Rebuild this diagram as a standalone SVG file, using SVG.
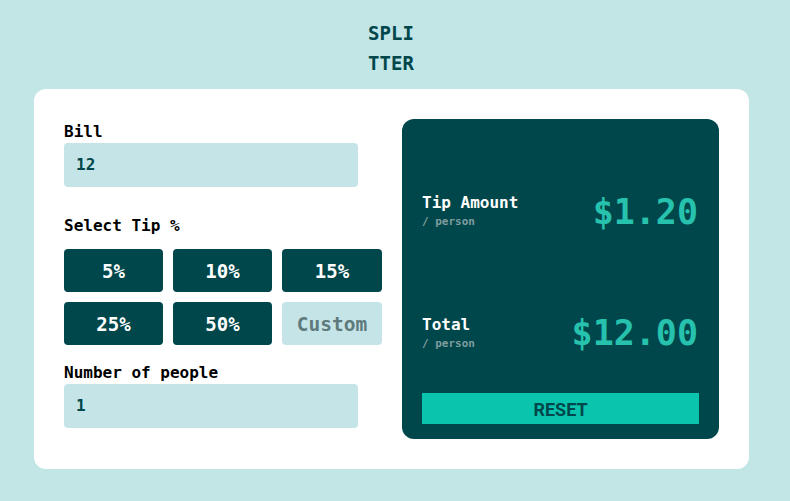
<svg xmlns="http://www.w3.org/2000/svg" width="790" height="501" viewBox="0 0 790 501">
<style>
.mono{font-family:"DejaVu Sans Mono","Liberation Mono",monospace;font-weight:bold}
.lbl{font-size:16px;fill:#000}
.inp{fill:#c5e4e7}
.val{font-size:16px;fill:#00474b}
.btn{fill:#00474b}
.btxt{font-size:19px;fill:#fff;text-anchor:middle}
.rl{font-size:16px;fill:#fff}
.per{font-size:11px;fill:#7f9d9f}
.amt{font-size:35px;fill:#26c2ae;text-anchor:end}
</style>
<rect width="790" height="501" fill="#c2e5e6"/>
<g id="title" class="mono" font-size="19" fill="#00474b" text-anchor="middle">
<text x="391" y="40">SPLI</text>
<text x="391" y="70">TTER</text>
</g>
<rect id="card" x="34" y="89" width="715" height="380" rx="12" fill="#fff"/>
<g id="bill" class="mono">
<text class="lbl" x="64" y="137">Bill</text>
<rect class="inp" x="64" y="143" width="294" height="44" rx="4"/>
<text class="val" x="76" y="170">12</text>
</g>
<g id="tip" class="mono">
<text class="lbl" x="64" y="231">Select Tip %</text>
<rect class="btn" x="64" y="249" width="99" height="43" rx="4"/>
<text class="btxt" x="113.5" y="278">5%</text>
<rect class="btn" x="173" y="249" width="99" height="43" rx="4"/>
<text class="btxt" x="222.5" y="278">10%</text>
<rect class="btn" x="282" y="249" width="100" height="43" rx="4"/>
<text class="btxt" x="332" y="278">15%</text>
<rect class="btn" x="64" y="302" width="99" height="43" rx="4"/>
<text class="btxt" x="113.5" y="331">25%</text>
<rect class="btn" x="173" y="302" width="99" height="43" rx="4"/>
<text class="btxt" x="222.5" y="331">50%</text>
<rect class="inp" x="282" y="302" width="100" height="43" rx="4"/>
<text class="btxt" x="332" y="331" style="fill:#5e7a7d;font-size:19.5px">Custom</text>
</g>
<g id="people" class="mono">
<text class="lbl" x="64" y="378">Number of people</text>
<rect class="inp" x="64" y="384" width="294" height="44" rx="4"/>
<text class="val" x="76" y="411">1</text>
</g>
<g id="result">
<rect x="402" y="119" width="317" height="320" rx="12" fill="#00474b"/>
<g class="mono">
<text class="rl" x="422" y="208">Tip Amount</text>
<text class="per" x="422" y="225">/ person</text>
<text class="amt" x="698" y="224">$1.20</text>
<text class="rl" x="422" y="330">Total</text>
<text class="per" x="422" y="347">/ person</text>
<text class="amt" x="698" y="345">$12.00</text>
</g>
<rect x="422" y="393" width="277" height="31" fill="#0ac4ae"/>
<text x="560.5" y="416" font-family="Roboto,'Liberation Sans',sans-serif" font-weight="bold" font-size="18" fill="#00474b" text-anchor="middle">RESET</text>
</g>
</svg>
